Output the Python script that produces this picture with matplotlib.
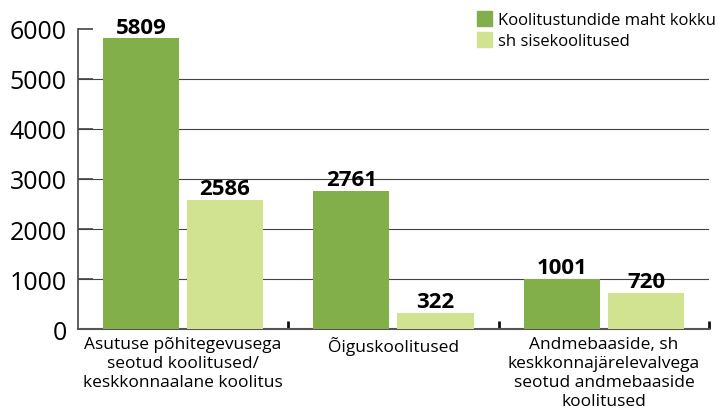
import numpy as np
import matplotlib as mpl
mpl.use('Agg')
import matplotlib.pyplot as plt
from matplotlib.patches import Patch

plt.rcParams['font.family'] = ['Open Sans', 'DejaVu Sans']

# data
categories = ["Asutuse põhitegevusega\nseotud koolitused/\nkeskkonnaalane koolitus",
              "Õiguskoolitused",
              "Andmebaaside, sh\nkeskkonnajärelevalvega\nseotud andmebaaside\nkoolitused"]
total_hours = [5809, 2761, 1001]
internal_hours = [2586, 322, 720]
series_names = ["Koolitustundide maht kokku", "sh sisekoolitused"]

dark_green = '#82af4a'
light_green = '#d1e291'

fig = plt.figure(figsize=(7.2, 4.1), dpi=100)
ax = fig.add_axes([0.108, 0.195, 0.877, 0.732])

pos = np.arange(len(categories)) + 0.5
w = 0.362
b1 = ax.bar(pos - 0.2, total_hours, w, color=dark_green, zorder=3)
b2 = ax.bar(pos + 0.2, internal_hours, w, color=light_green, zorder=3)

for bars in (b1, b2):
    for r in bars:
        ax.text(r.get_x() + r.get_width()/2, r.get_height() + 15, str(int(r.get_height())),
                ha='center', va='bottom', fontsize=16, fontweight='bold', zorder=4, clip_on=False)

ax.set_xlim(0, 3)
ax.set_ylim(0, 6000)

# gridlines only between 0 and 6000
for yv in range(1000, 6000, 1000):
    ax.axhline(yv, color='#444444', lw=0.8, zorder=1)

ax.set_yticks(range(0, 6001, 1000))
ax.tick_params(axis='y', direction='in', length=11, width=1.2, color='#444444',
               labelsize=18, pad=8)
ax.set_xticks(pos)
ax.set_xticklabels(categories, fontsize=12.5, linespacing=1.25)
ax.tick_params(axis='x', which='major', length=0, pad=5)
ax.set_xticks([1, 2, 3], minor=True)
ax.tick_params(axis='x', which='minor', direction='in', length=6, width=2, color='#111111')

for s in ['top', 'right']:
    ax.spines[s].set_visible(False)
ax.spines['left'].set_color('#444444')
ax.spines['left'].set_linewidth(1.2)
ax.spines['bottom'].set_color('#555555')
ax.spines['bottom'].set_linewidth(1.5)

handles = [Patch(color=dark_green), Patch(color=light_green)]
fig.legend(handles, series_names, loc='upper left', bbox_to_anchor=(0.662, 0.97),
           bbox_transform=fig.transFigure, frameon=False, fontsize=12,
           handlelength=0.95, handleheight=0.95, handletextpad=0.35,
           labelspacing=0.25, borderpad=0, borderaxespad=0)

fig.savefig('out.png', dpi=100)
